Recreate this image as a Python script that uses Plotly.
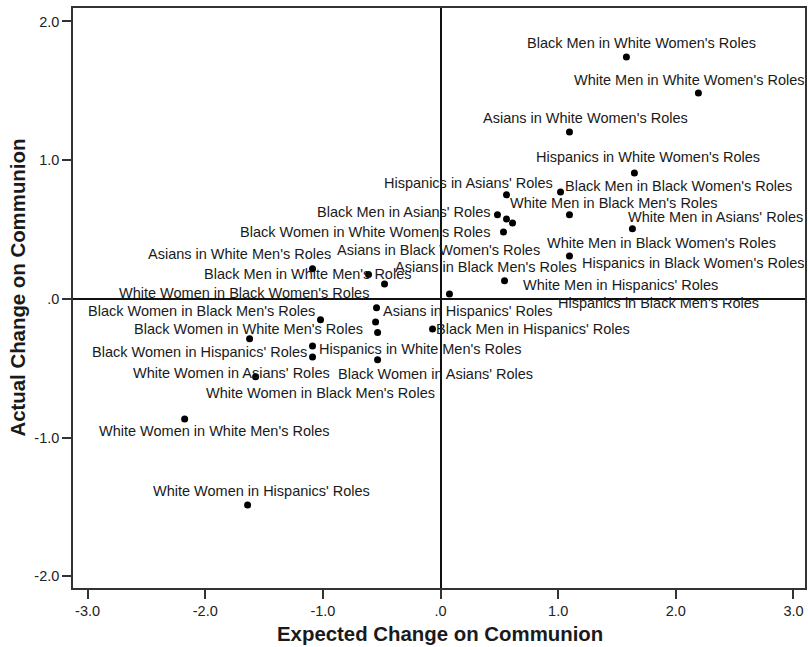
import plotly.graph_objects as go

labels = [
    "Black Men in White Women's Roles",
    "White Men in White Women's Roles",
    "Asians in White Women's Roles",
    "Hispanics in White Women's Roles",
    "Black Men in Black Women's Roles",
    "Hispanics in Asians' Roles",
    "Black Men in Asians' Roles",
    "Asians in Black Women's Roles",
    "White Men in Black Men's Roles",
    "White Men in Black Women's Roles",
    "White Men in Asians' Roles",
    "Black Women in White Women's Roles",
    "Hispanics in Black Women's Roles",
    "White Men in Hispanics' Roles",
    "Asians in Black Men's Roles",
    "White Women in Black Women's Roles",
    "Black Men in White Men's Roles",
    "Asians in White Men's Roles",
    "Asians in Hispanics' Roles",
    "Black Women in Black Men's Roles",
    "Hispanics in Black Men's Roles",
    "White Women in Black Men's Roles",
    "Black Men in Hispanics' Roles",
    "Black Women in White Men's Roles",
    "Hispanics in White Men's Roles",
    "Black Women in Hispanics' Roles",
    "Black Women in Asians' Roles",
    "White Women in Asians' Roles",
    "White Women in White Men's Roles",
    "White Women in Hispanics' Roles",
]

expected_change = [1.580, 2.192, 1.096, 1.648, 1.020, 0.561, 0.484, 0.561, 0.612, 1.096,
                   1.631, 0.535, 1.096, 0.544, 0.076, -0.476, -0.612, -1.088, -0.544, -1.020,
                   -0.552, -0.535, -0.068, -1.623, -1.088, -1.088, -0.535, -1.572, -2.175, -1.640]

actual_change = [1.744, 1.485, 1.204, 0.908, 0.771, 0.750, 0.606, 0.576, 0.548, 0.606,
                 0.505, 0.483, 0.310, 0.130, 0.036, 0.108, 0.176, 0.217, -0.064, -0.151,
                 -0.166, -0.242, -0.217, -0.288, -0.339, -0.418, -0.439, -0.562, -0.865, -1.485]

x_tick_values = [-3, -2, -1, 0, 1, 2, 3]
x_tick_text = ["-3.0", "-2.0", "-1.0", ".0", "1.0", "2.0", "3.0"]
y_tick_values = [-2, -1, 0, 1, 2]
y_tick_text = ["-2.0", "-1.0", ".0", "1.0", "2.0"]

# label placement (pixel offsets of label centre from its point; screen y down)
label_offsets = {
    "Black Men in White Women's Roles": (15, -14),
    "White Men in White Women's Roles": (-9, -13),
    "Asians in White Women's Roles": (16, -14),
    "Hispanics in White Women's Roles": (14, -16),
    "Black Men in Black Women's Roles": (118, -6),
    "Hispanics in Asians' Roles": (-38, -12),
    "Black Men in Asians' Roles": (-93, -3),
    "Asians in Black Women's Roles": (-68, 31),
    "White Men in Black Men's Roles": (101, -20),
    "White Men in Black Women's Roles": (92, 28),
    "White Men in Asians' Roles": (83, -12),
    "Black Women in White Women's Roles": (-138, 0),
    "Hispanics in Black Women's Roles": (124, 7),
    "White Men in Hispanics' Roles": (116, 4),
    "Asians in Black Men's Roles": (37, -27),
    "White Women in Black Women's Roles": (-141, 9),
    "Black Men in White Men's Roles": (-61, 0),
    "Asians in White Men's Roles": (-73, -15),
    "Asians in Hispanics' Roles": (91, 3),
    "Black Women in Black Men's Roles": (-119, -9),
    "Hispanics in Black Men's Roles": (283, -19),
    "White Women in Black Men's Roles": (-57, 61),
    "Black Men in Hispanics' Roles": (100, 0),
    "Black Women in White Men's Roles": (-1, -10),
    "Hispanics in White Men's Roles": (108, 3),
    "Black Women in Hispanics' Roles": (-113, -5),
    "Black Women in Asians' Roles": (58, 14),
    "White Women in Asians' Roles": (-24, -4),
    "White Women in White Men's Roles": (30, 12),
    "White Women in Hispanics' Roles": (14, -14),
}

fig = go.Figure()
fig.add_trace(go.Scatter(
    x=expected_change, y=actual_change, mode="markers",
    marker=dict(color="black", size=7),
    text=labels, hoverinfo="text", showlegend=False,
))

label_font = dict(family="Liberation Sans, Arial, sans-serif", size=14.5, color="#1a1a1a")
for lab, xv, yv in zip(labels, expected_change, actual_change):
    dx, dy = label_offsets[lab]
    fig.add_annotation(x=xv, y=yv, xref="x", yref="y", text=lab, showarrow=False,
                       xanchor="center", yanchor="middle", xshift=dx, yshift=-dy,
                       font=label_font)

title_font = dict(family="Liberation Sans, Arial, sans-serif", size=20.4, color="#1a1a1a")
fig.add_annotation(text="<b>Expected Change on Communion</b>", xref="paper", yref="paper",
                   x=0.501, y=0, yshift=-46, xanchor="center", yanchor="middle",
                   showarrow=False, font=title_font)
fig.add_annotation(text="<b>Actual Change on Communion</b>", xref="paper", yref="paper",
                   x=0, y=0.518, xshift=-55, xanchor="center", yanchor="middle",
                   textangle=-90, showarrow=False, font=title_font)

axis_common = dict(
    showgrid=False, zeroline=True, zerolinecolor="#111", zerolinewidth=1.5,
    showline=True, mirror=True, linecolor="#333", linewidth=1.5,
    ticks="outside", ticklen=9, tickwidth=1.5, tickcolor="#333",
    tickfont=dict(family="Liberation Sans, Arial, sans-serif", size=14.5, color="#222"),
)
fig.update_xaxes(range=[-3.124, 3.098], tickvals=x_tick_values, ticktext=x_tick_text, **axis_common)
fig.update_yaxes(range=[-2.084, 2.097], tickvals=y_tick_values, ticktext=y_tick_text, **axis_common)

fig.update_layout(
    width=808, height=647,
    margin=dict(l=73, r=3, t=8, b=59, autoexpand=False),
    paper_bgcolor="white", plot_bgcolor="white",
)

fig.write_html("out.html", config={"displayModeBar": False},
               post_script="document.body.style.margin='0';")
